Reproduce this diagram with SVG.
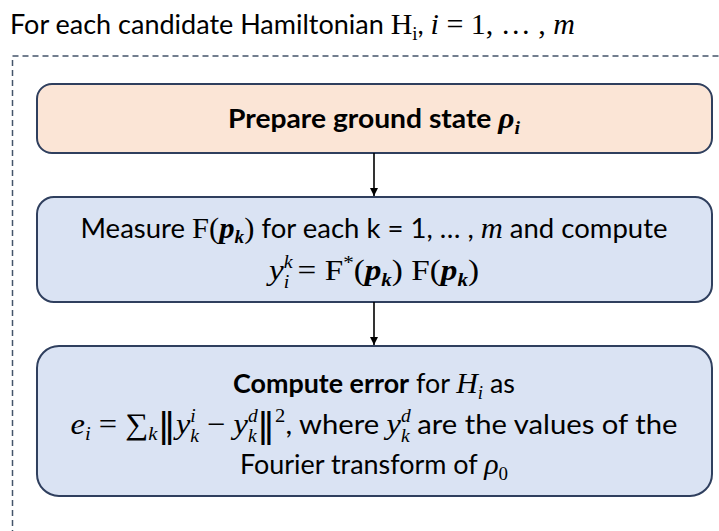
<svg xmlns="http://www.w3.org/2000/svg" width="719" height="531" viewBox="0 0 719 531">
<defs>
<style>
.t{font-family:Lato,"Open Sans","Liberation Sans",sans-serif;font-size:27px;fill:#000}
.m{font-family:"Liberation Serif","DejaVu Serif",serif;font-size:30px}
.mi{font-family:"Liberation Serif","DejaVu Serif",serif;font-size:30px;font-style:italic}
.s{font-family:"Liberation Serif","DejaVu Serif",serif;font-size:19px;font-style:italic}
.ss{font-family:"Liberation Serif","DejaVu Serif",serif;font-size:18px;font-style:italic}
.su{font-family:"Liberation Serif","DejaVu Serif",serif;font-size:19px}
.big{font-family:"DejaVu Sans","Liberation Serif",serif;font-size:34px;font-weight:normal}
.b{font-weight:bold}
.box{stroke:#2F3F5E;stroke-width:2}
.conn{stroke:#000;stroke-width:1.6;fill:none}
</style>
<marker id="ah" viewBox="0 0 10 10" refX="10" refY="5" markerWidth="8" markerHeight="8" markerUnits="userSpaceOnUse" orient="auto">
<path d="M0,0 L10,5 L0,10 z" fill="#000"/>
</marker>
</defs>
<rect width="719" height="531" fill="#fff"/>
<text class="t" x="10" y="34" textLength="565" lengthAdjust="spacingAndGlyphs">For each candidate Hamiltonian <tspan class="m">H</tspan><tspan class="su" dy="6">i</tspan><tspan dy="-6">,  </tspan><tspan class="mi">i</tspan><tspan class="m"> = 1, … , </tspan><tspan class="mi">m</tspan></text>
<rect x="12.5" y="56" width="740" height="520" fill="none" stroke="#44546A" stroke-width="1.5" stroke-dasharray="6 4"/>
<g id="n1">
<rect class="box" x="37" y="84" width="675" height="69" rx="15" fill="#FBE5D6"/>
<text class="t b" x="374" y="128" text-anchor="middle" textLength="292" lengthAdjust="spacingAndGlyphs">Prepare ground state <tspan class="mi">ρ</tspan><tspan class="s" dy="6">i</tspan></text>
</g>
<g id="n2">
<rect class="box" x="37" y="197" width="675" height="105" rx="17" fill="#DAE3F3"/>
<text class="t" x="374" y="238" text-anchor="middle" textLength="587" lengthAdjust="spacingAndGlyphs">Measure <tspan class="m">F(</tspan><tspan class="mi b">p</tspan><tspan class="s b" dy="5">k</tspan><tspan class="m" dy="-5">)</tspan> for each k = 1, … , <tspan class="mi">m</tspan> and compute</text>
<text class="m" x="374" y="280" text-anchor="middle" textLength="210" lengthAdjust="spacingAndGlyphs"><tspan class="mi">y</tspan><tspan class="ss" dy="-12">k</tspan><tspan class="ss" dx="-8" dy="20">i</tspan><tspan dy="-8"> = F</tspan><tspan class="su" dy="-11">*</tspan><tspan dy="11">(</tspan><tspan class="mi b">p</tspan><tspan class="s b" dy="6">k</tspan><tspan dy="-6">) F(</tspan><tspan class="mi b">p</tspan><tspan class="s b" dy="6">k</tspan><tspan dy="-6">)</tspan></text>
</g>
<g id="n3">
<rect class="box" x="37" y="346" width="675" height="150" rx="22" fill="#DAE3F3"/>
<text class="t" x="374" y="393" text-anchor="middle" textLength="282" lengthAdjust="spacingAndGlyphs"><tspan class="b">Compute error</tspan> for <tspan class="mi">H</tspan><tspan class="s" dy="6">i</tspan><tspan dy="-6"> as</tspan></text>
<text class="t" x="374" y="434" text-anchor="middle" textLength="607" lengthAdjust="spacingAndGlyphs"><tspan class="mi">e</tspan><tspan class="s" dy="6">i</tspan><tspan class="m" dy="-6"> = ∑</tspan><tspan class="s" dy="6">k</tspan><tspan class="big" dy="-3">‖</tspan><tspan class="mi" dy="-3">y</tspan><tspan class="ss" dy="-12">i</tspan><tspan class="ss" dx="-5" dy="20">k</tspan><tspan class="m" dy="-8"> − </tspan><tspan class="mi">y</tspan><tspan class="ss" dy="-12">d</tspan><tspan class="ss" dx="-9" dy="20">k</tspan><tspan class="big" dy="-5">‖</tspan><tspan class="su" dy="-15">2</tspan><tspan dy="12">, where </tspan><tspan class="mi">y</tspan><tspan class="ss" dy="-12">d</tspan><tspan class="ss" dx="-9" dy="20">k</tspan><tspan dy="-8"> are the values of the</tspan></text>
<text class="t" x="374" y="474" text-anchor="middle" textLength="268" lengthAdjust="spacingAndGlyphs">Fourier transform of <tspan class="mi">ρ</tspan><tspan class="su" dy="6">0</tspan></text>
</g>
<g id="connectors">
<line class="conn" x1="374" y1="153" x2="374" y2="196" marker-end="url(#ah)"/>
<line class="conn" x1="374" y1="302" x2="374" y2="345" marker-end="url(#ah)"/>
</g>
</svg>
